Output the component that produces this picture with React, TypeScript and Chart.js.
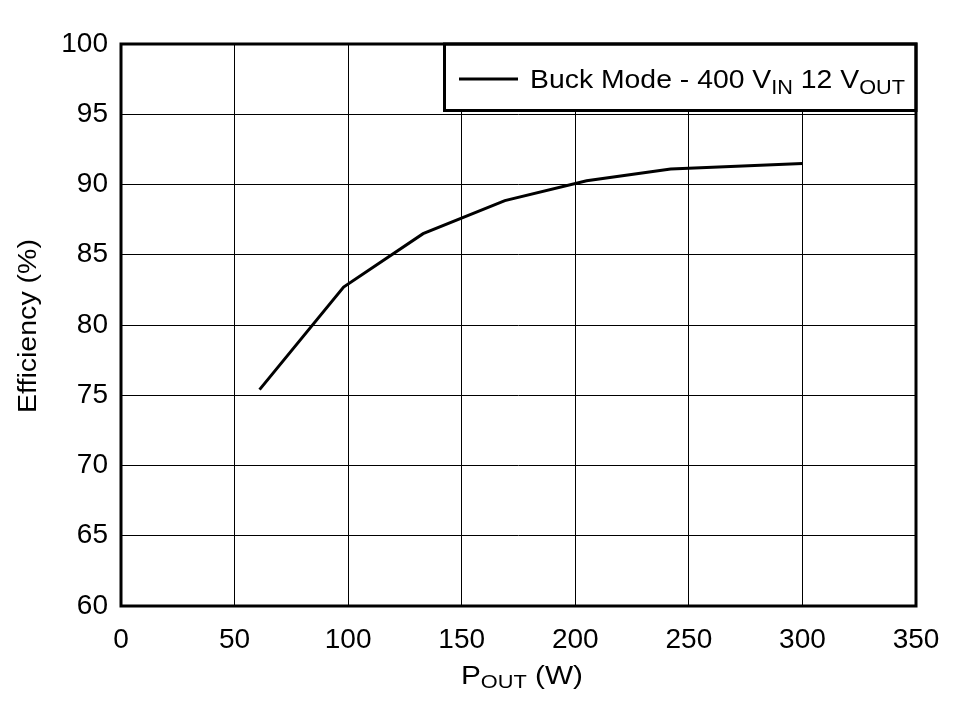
import React, { useEffect, useRef } from "react";
import { Chart, registerables } from "chart.js";

Chart.register(...registerables);

const pout: number[] = [61, 98, 133, 169, 205, 242, 300];
const efficiency: number[] = [75.4, 82.7, 86.5, 88.85, 90.27, 91.1, 91.5];
const xTicks: number[] = [0, 50, 100, 150, 200, 250, 300, 350];
const yTicks: number[] = [60, 65, 70, 75, 80, 85, 90, 95, 100];
const seriesLabel = "Buck Mode - 400 V_IN 12 V_OUT";
const xTitleParts: [string, boolean][] = [["P", false], ["OUT", true], [" (W)", false]];
const legendParts: [string, boolean][] = [["Buck Mode - 400 V", false], ["IN", true], [" 12 V", false], ["OUT", true]];
const yTitle = "Efficiency (%)";

const FONT = "'Liberation Sans', Arial, sans-serif";

// draw text parts (with subscripts) horizontally stretched to a target width
function drawStretched(
  ctx: CanvasRenderingContext2D,
  parts: [string, boolean][],
  x: number,
  y: number,
  size: number,
  subSize: number,
  subOffset: number,
  targetWidth: number,
  align: "left" | "center"
) {
  const widths = parts.map(([t, sub]) => {
    ctx.font = `${sub ? subSize : size}px ${FONT}`;
    return ctx.measureText(t).width;
  });
  const total = widths.reduce((a, b) => a + b, 0);
  const sx = targetWidth / total;
  ctx.save();
  ctx.translate(align === "center" ? x - targetWidth / 2 : x, y);
  ctx.scale(sx, 1);
  ctx.textAlign = "left";
  ctx.textBaseline = "alphabetic";
  let cx = 0;
  parts.forEach(([t, sub], i) => {
    ctx.font = `${sub ? subSize : size}px ${FONT}`;
    ctx.fillText(t, cx, sub ? subOffset : 0);
    cx += widths[i];
  });
  ctx.restore();
}

const decorPlugin = {
  id: "decor",
  afterDraw(chart: any) {
    const { ctx, chartArea } = chart;
    const { left, top, right, bottom } = chartArea;
    ctx.save();
    ctx.strokeStyle = "#000";
    // legend box
    const lx = 443, lb = 112;
    ctx.fillStyle = "#fff";
    ctx.fillRect(lx, top, right - lx, lb - top);
    ctx.lineWidth = 3;
    ctx.strokeRect(lx + 1.5, top, right - lx - 1.5, lb - top - 1.5);
    ctx.beginPath();
    ctx.moveTo(459, 79);
    ctx.lineTo(518, 79);
    ctx.stroke();
    ctx.fillStyle = "#000";
    drawStretched(ctx, legendParts, 530, 88, 25.5, 19.5, 6, 375, "left");
    // plot border
    ctx.lineWidth = 3;
    ctx.strokeRect(left, top, right - left, bottom - top);
    // x title
    drawStretched(ctx, xTitleParts, 461, 684, 26, 19, 4, 122, "left");
    // y title (rotated)
    ctx.save();
    ctx.translate(36, 326);
    ctx.rotate(-Math.PI / 2);
    drawStretched(ctx, [[yTitle, false]], 0, 0, 26, 19, 0, 174, "center");
    ctx.restore();
    ctx.restore();
  },
};

export default function App() {
  const ref = useRef<HTMLCanvasElement>(null);
  useEffect(() => {
    if (!ref.current) return;
    const chart = new Chart(ref.current, {
      type: "line",
      data: {
        datasets: [
          {
            label: seriesLabel,
            data: pout.map((x, i) => ({ x, y: efficiency[i] })),
            borderColor: "#000",
            borderWidth: 3,
            pointRadius: 0,
            tension: 0,
            fill: false,
          },
        ],
      },
      options: {
        animation: false,
        responsive: false,
        maintainAspectRatio: false,
        layout: { padding: { top: 44, right: 48, left: 0, bottom: 0 } },
        plugins: { legend: { display: false }, tooltip: { enabled: false } },
        scales: {
          x: {
            type: "linear",
            min: 0,
            max: 350,
            afterBuildTicks: (s: any) => { s.ticks = xTicks.map((v) => ({ value: v })); },
            afterFit: (s: any) => { s.height = 95; },
            grid: { color: "#000", lineWidth: 1, drawTicks: false },
            border: { display: false },
            ticks: { color: "#000", font: { family: FONT, size: 28 }, padding: 17, maxRotation: 0, autoSkip: false },
          },
          y: {
            type: "linear",
            min: 60,
            max: 100,
            afterBuildTicks: (s: any) => { s.ticks = yTicks.map((v) => ({ value: v })); },
            afterFit: (s: any) => { s.width = 121; },
            grid: { color: "#000", lineWidth: 1, drawTicks: false },
            border: { display: false },
            ticks: { color: "#000", font: { family: FONT, size: 28 }, padding: 13, autoSkip: false },
          },
        },
      },
      plugins: [decorPlugin],
    });
    return () => chart.destroy();
  }, []);
  return (
    <div style={{ position: "fixed", left: 0, top: 0, width: 964, height: 701, background: "#fff" }}>
      <canvas ref={ref} width={964} height={701} style={{ width: 964, height: 701 }} />
    </div>
  );
}
